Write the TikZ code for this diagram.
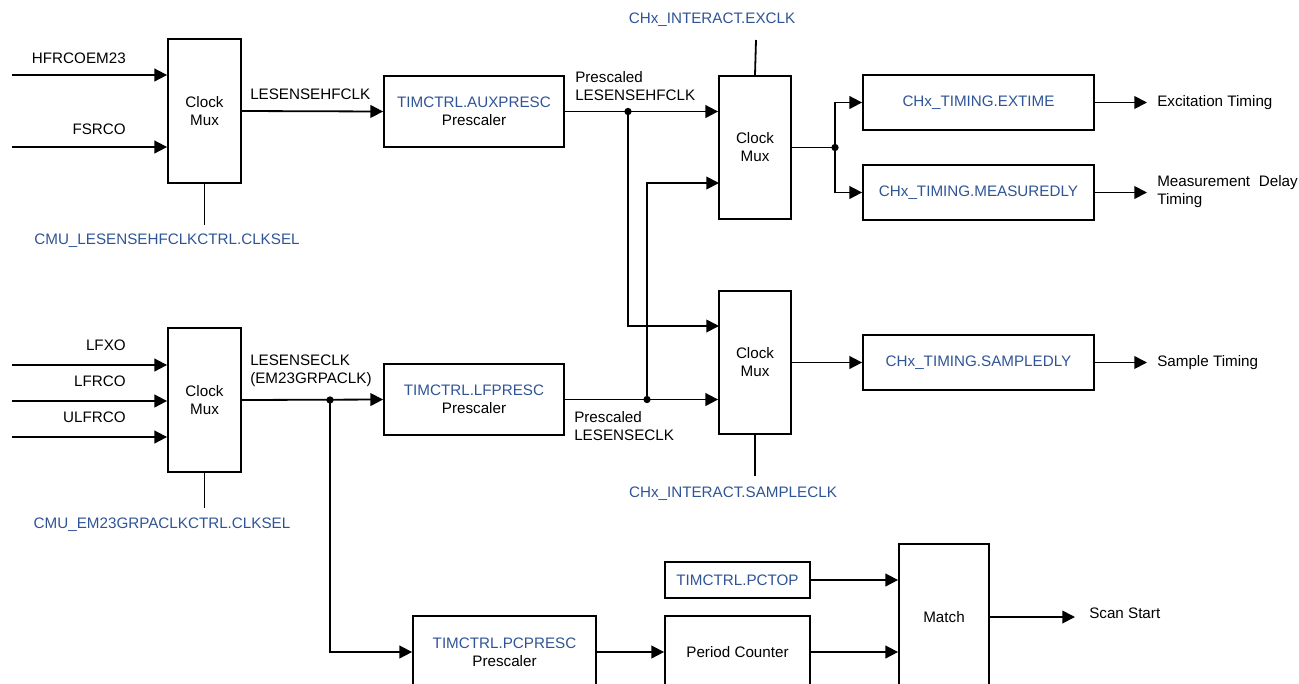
\documentclass[tikz,border=0pt]{standalone}
\usepackage{fontspec}
\setmainfont{Liberation Sans}
\usetikzlibrary{arrows.meta}
\definecolor{regblue}{RGB}{47,84,150}

\begin{document}
\begin{tikzpicture}[x=0.75pt, y=-0.75pt,
  every node/.style={font=\fontsize{11.4}{13.5}\selectfont},
  blk/.style={draw, line width=1.35pt, inner sep=0pt, align=center},
  lbl/.style={inner sep=0pt, align=left},
  reg/.style={text=regblue},
  arr/.style={line width=1.35pt, -{Triangle[length=9.5pt,width=9.5pt]}},
  wire/.style={line width=1.35pt},
  jdot/.style={circle, fill, inner sep=0pt, minimum size=5.5pt}]
  \useasboundingbox (0,0) rectangle (1299,683);
  \clip (0,0) rectangle (1299,683);

  % Clock muxes
  \node[blk, minimum width=54.75pt, minimum height=108pt] (muxHF) at (204.5,111) {Clock\\Mux};
  \node[blk, minimum width=54.75pt, minimum height=108pt] (muxLF) at (204.5,400) {Clock\\Mux};
  \node[blk, minimum width=54pt, minimum height=107.25pt] (muxEx) at (755,147.5) {Clock\\Mux};
  \node[blk, minimum width=54pt, minimum height=107.25pt] (muxSa) at (755,362.5) {Clock\\Mux};

  % Prescalers
  \node[blk, minimum width=135pt, minimum height=53.25pt] (auxPre) at (474,111.5) {\textcolor{regblue}{TIMCTRL.AUXPRESC}\\Prescaler};
  \node[blk, minimum width=135pt, minimum height=53.25pt] (lfPre) at (474,399.5) {\textcolor{regblue}{TIMCTRL.LFPRESC}\\Prescaler};
  \node[blk, minimum width=137.25pt, minimum height=54pt] (pcPre) at (504.5,652) {\textcolor{regblue}{TIMCTRL.PCPRESC}\\Prescaler};

  % Timing registers
  \node[blk, reg, minimum width=173.25pt, minimum height=41.25pt] (exTime) at (978.5,102.5) {CHx\_TIMING.EXTIME};
  \node[blk, reg, minimum width=173.25pt, minimum height=41.25pt] (measDly) at (978.5,192.5) {CHx\_TIMING.MEASUREDLY};
  \node[blk, reg, minimum width=173.25pt, minimum height=41.25pt] (sampDly) at (978.5,362.5) {CHx\_TIMING.SAMPLEDLY};

  % Period counter and match
  \node[blk, reg, minimum width=108.75pt, minimum height=27pt] (pcTop) at (737.5,580) {TIMCTRL.PCTOP};
  \node[blk, minimum width=108.75pt, minimum height=54pt] (perCnt) at (737.5,652) {Period Counter};
  \node[blk, minimum width=67.5pt, minimum height=109.5pt] (match) at (944,617) {Match};

  % Text labels
  \node[lbl, anchor=east] (tHfrco) at (126,58) {HFRCOEM23};
  \node[lbl, anchor=east] (tFsrco) at (126,129) {FSRCO};
  \node[lbl, anchor=east] (tLfxo) at (126,345) {LFXO};
  \node[lbl, anchor=east] (tLfrco) at (126,381) {LFRCO};
  \node[lbl, anchor=east] (tUlfrco) at (126,417) {ULFRCO};
  \node[lbl, anchor=west] (tHfClk) at (250,94) {LESENSEHFCLK};
  \node[lbl, anchor=west] (tLfClk) at (250,371) {LESENSECLK\\(EM23GRPACLK)};
  \node[lbl, anchor=west] (tPreHf) at (575,86) {Prescaled\\LESENSEHFCLK};
  \node[lbl, anchor=west] (tPreLf) at (574,426) {Prescaled\\LESENSECLK};
  \node[lbl, reg] (tSelHf) at (167,241) {CMU\_LESENSEHFCLKCTRL.CLKSEL};
  \node[lbl, reg] (tSelLf) at (162,525) {CMU\_EM23GRPACLKCTRL.CLKSEL};
  \node[lbl, reg] (tExClk) at (712,20) {CHx\_INTERACT.EXCLK};
  \node[lbl, reg] (tSaClk) at (733,494) {CHx\_INTERACT.SAMPLECLK};
  \node[lbl, anchor=west] (tExTim) at (1157,103) {Excitation Timing};
  \node[lbl, anchor=west] (tMeTim) at (1157,192) {Measurement\hskip 6.5pt Delay\\Timing};
  \node[lbl, anchor=west] (tSaTim) at (1157,363) {Sample Timing};
  \node[lbl, anchor=west] (tScan) at (1089,613) {Scan Start};

  % Free ends and junctions
  \coordinate (inHfrco) at (12,75);
  \coordinate (inFsrco) at (12,147);
  \coordinate (inLfxo) at (12,365);
  \coordinate (inLfrco) at (12,401);
  \coordinate (inUlfrco) at (12,437);
  \coordinate (selHfEnd) at (204.5,225);
  \coordinate (selLfEnd) at (204.5,508);
  \coordinate (exClkEnd) at (756,40);
  \coordinate (saClkEnd) at (755,476);
  \coordinate (inEx2) at (719,183);
  \coordinate (inSa1) at (719,326);
  \coordinate (outEx) at (1147,102.5);
  \coordinate (outMe) at (1147,192.5);
  \coordinate (outSa) at (1147,362.5);
  \coordinate (outScan) at (1075,617);
  \node[jdot] (jHf) at (628,111.5) {};
  \node[jdot] (jLf) at (647,399.5) {};
  \node[jdot] (jEx) at (835,147.5) {};
  \node[jdot] (jLs) at (330,400) {};

  % Clock sources into muxes
  \draw[arr] (inHfrco) -- (inHfrco -| muxHF.west);
  \draw[arr] (inFsrco) -- (inFsrco -| muxHF.west);
  \draw[arr] (inLfxo) -- (inLfxo -| muxLF.west);
  \draw[arr] (inLfrco) -- (inLfrco -| muxLF.west);
  \draw[arr] (inUlfrco) -- (inUlfrco -| muxLF.west);
  \draw[wire] (muxHF.south) -- (selHfEnd);
  \draw[wire] (muxLF.south) -- (selLfEnd);

  % Prescaler paths
  \draw[arr] (muxHF.east) -- (auxPre.west);
  \draw[arr] (muxLF.east) -- (lfPre.west);
  \draw[arr] (auxPre.east) -- (auxPre.east -| muxEx.west);
  \draw[arr] (lfPre.east) -- (lfPre.east -| muxSa.west);
  \draw[arr] (jHf.center) |- (inSa1);
  \draw[arr] (jLf.center) |- (inEx2);
  \draw[wire] (exClkEnd) -- (muxEx.north);
  \draw[wire] (muxSa.south) -- (saClkEnd);

  % Timing outputs
  \draw[wire] (muxEx.east) -- (jEx.center);
  \draw[arr] (jEx.center) |- (exTime.west);
  \draw[arr] (jEx.center) |- (measDly.west);
  \draw[arr] (muxSa.east) -- (sampDly.west);
  \draw[arr] (exTime.east) -- (outEx);
  \draw[arr] (measDly.east) -- (outMe);
  \draw[arr] (sampDly.east) -- (outSa);

  % Period counter path
  \draw[arr] (jLs.center) |- (pcPre.west);
  \draw[arr] (pcPre.east) -- (perCnt.west);
  \draw[arr] (pcTop.east) -- (pcTop.east -| match.west);
  \draw[arr] (perCnt.east) -- (perCnt.east -| match.west);
  \draw[arr] (match.east) -- (outScan);
\end{tikzpicture}
\end{document}
